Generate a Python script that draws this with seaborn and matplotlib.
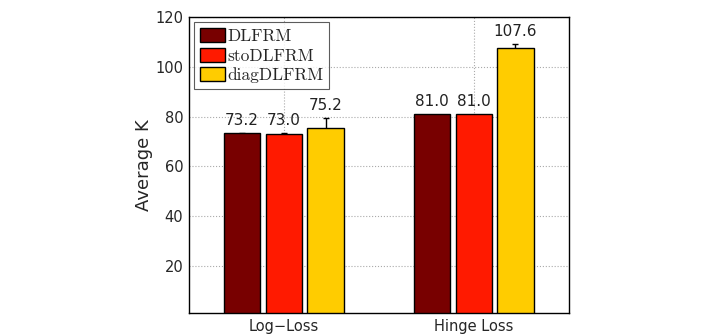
import matplotlib.pyplot as plt
import pandas as pd
import seaborn as sns

groups = ["Log\u2212Loss", "Hinge Loss"]
methods = ["DLFRM", "stoDLFRM", "diagDLFRM"]
avg_k = {
    "DLFRM": [73.2, 81.0],
    "stoDLFRM": [73.0, 81.0],
    "diagDLFRM": [75.2, 107.6],
}
err_k = {
    "DLFRM": [0.3, 0.0],
    "stoDLFRM": [0.2, 0.0],
    "diagDLFRM": [4.2, 1.6],
}
colors = ["#780000", "#ff1a00", "#ffcc00"]
yticks = [20, 40, 60, 80, 100, 120]


def main():
    rows = []
    for m in methods:
        for g, v, e in zip(groups, avg_k[m], err_k[m]):
            rows.append({"loss": g, "method": m, "k": v, "err": e})
    df = pd.DataFrame(rows)

    sns.set_theme(style="white")
    fig = plt.figure(figsize=(7.18, 3.34), dpi=100)
    ax = fig.add_axes([0.263, 0.063, 0.529, 0.886])

    sns.barplot(
        data=df, x="loss", y="k", hue="method",
        order=groups, hue_order=methods, palette=colors,
        width=0.66, gap=0.13, edgecolor="black", linewidth=1.0,
        saturation=1, errorbar=None, ax=ax,
    )
    for bar in ax.patches:
        bar.set_zorder(2)

    # error bars (hidden below the bar top) and value labels per bar
    for i, m in enumerate(methods):
        cont = ax.containers[i]
        for bar, v, e in zip(cont, avg_k[m], err_k[m]):
            cx = bar.get_x() + bar.get_width() / 2
            if e > 0:
                ax.errorbar(cx, v, yerr=e, fmt="none", ecolor="black",
                            elinewidth=1.0, capsize=2, zorder=1.5)
            ax.text(cx, v + e + 2.0, f"{v:.1f}", ha="center", va="bottom",
                    fontsize=11, color="#222222")

    ax.set_xlim(-0.5, 1.5)
    ax.set_ylim(1, 120)
    ax.set_yticks(yticks)
    ax.set_xlabel("")
    ax.set_ylabel("Average K", fontsize=13, labelpad=2)
    ax.tick_params(axis="both", labelsize=10.5, length=0, pad=4)
    ax.grid(True, linestyle=":", color="#aaaaaa", linewidth=0.8)
    ax.set_axisbelow(True)
    for s in ax.spines.values():
        s.set_color("black")
        s.set_linewidth(1.0)

    leg = ax.legend(loc="upper left", prop={"family": "cmr10", "size": 12.5},
                    frameon=True, fancybox=False, edgecolor="#333333",
                    handlelength=1.45, handleheight=0.85, handletextpad=0.1,
                    labelspacing=0.2, borderpad=0.35, borderaxespad=0.3)
    leg.get_frame().set_linewidth(0.8)

    fig.savefig("out.png", dpi=100, facecolor="white")
    plt.close(fig)


if __name__ == "__main__":
    main()
